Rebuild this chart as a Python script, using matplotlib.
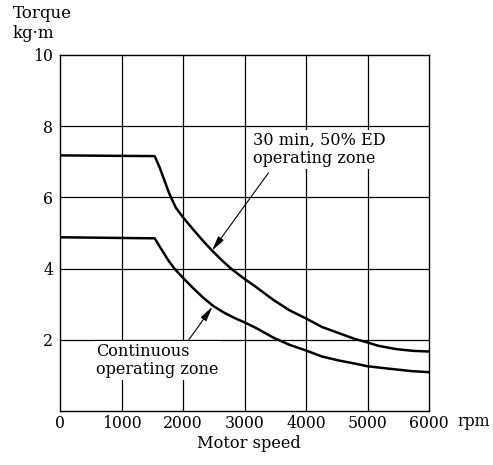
import matplotlib
matplotlib.use("Agg")
import matplotlib.pyplot as plt

plt.rcParams['font.family'] = ['DejaVu Serif']

# Data
speed_50ed = [0, 1540, 1620, 1700, 1767, 1805, 1884, 2000, 2160, 2330, 2470, 2640, 2780, 3000,
              3190, 3470, 3730, 4000, 4260, 4530, 4800, 4990, 5180, 5460, 5740, 6000]
torque_50ed = [7.18, 7.16, 6.84, 6.47, 6.15, 6.00, 5.71, 5.44, 5.11, 4.77, 4.51, 4.22, 4.00, 3.71,
               3.48, 3.12, 2.83, 2.60, 2.36, 2.19, 2.02, 1.93, 1.83, 1.74, 1.69, 1.67]

speed_cont = [0, 1540, 1650, 1750, 1860, 2000, 2160, 2330, 2500, 2670, 2840, 3000, 3190,
              3470, 3730, 4000, 4260, 4530, 4800, 4990, 5340, 5720, 6000]
torque_cont = [4.88, 4.85, 4.54, 4.26, 4.00, 3.74, 3.46, 3.18, 2.94, 2.76, 2.61, 2.49, 2.33,
               2.06, 1.86, 1.70, 1.53, 1.42, 1.33, 1.26, 1.19, 1.12, 1.09]

x_ticks = [0, 1000, 2000, 3000, 4000, 5000, 6000]
x_ticklabels = ['0', '1000', '2000', '3000', '4000', '5000', '6000']
y_ticks = [2, 4, 6, 8, 10]
y_ticklabels = ['2', '4', '6', '8', '10']

fig = plt.figure(figsize=(4.93, 4.65), dpi=100)
ax = fig.add_axes([60/493, 1 - 411/465, 369/493, 356/465])

ax.set_xlim(0, 6000)
ax.set_ylim(0, 10)

# grid
for xv in x_ticks[1:-1]:
    ax.axvline(xv, color='black', lw=0.9, zorder=1)
for yv in y_ticks[:-1]:
    ax.axhline(yv, color='black', lw=0.9, zorder=1)

ax.plot(speed_50ed, torque_50ed, color='black', lw=1.8, zorder=3,
        solid_joinstyle='round', solid_capstyle='butt')
ax.plot(speed_cont, torque_cont, color='black', lw=1.8, zorder=3,
        solid_joinstyle='round', solid_capstyle='butt')

for s in ax.spines.values():
    s.set_linewidth(1.0)

ax.set_xticks(x_ticks)
ax.set_xticklabels(x_ticklabels, fontsize=11.3)
ax.set_yticks(y_ticks)
ax.set_yticklabels(y_ticklabels, fontsize=11.3)
ax.tick_params(axis='x', length=0, pad=3)
ax.tick_params(axis='y', length=0, pad=5)

fig.text(13/493, 1 - 14/465, 'Torque', fontsize=12, ha='left', va='center')
fig.text(13/493, 1 - 33/465, 'kg·m', fontsize=12, ha='left', va='center')
fig.text(457/493, 1 - 421/465, 'rpm', fontsize=11.3, ha='left', va='center')
fig.text(249/493, 1 - 443/465, 'Motor speed', fontsize=11.7, ha='center', va='center')

bbox = dict(boxstyle='square,pad=0.12', fc='white', ec='none')
ax.text(3140, 7.85, '30 min, 50% ED\noperating zone', fontsize=11.6, ha='left', va='top',
        linespacing=1.08, bbox=bbox, zorder=2)
ax.text(590, 1.90, 'Continuous\noperating zone', fontsize=11.6, ha='left', va='top',
        linespacing=1.08, bbox=bbox, zorder=2)

arrow = dict(arrowstyle='-|>,head_length=0.9,head_width=0.2', color='black', lw=0.8,
             shrinkA=0, shrinkB=0)
ax.annotate('', xy=(2470, 4.50), xytext=(3390, 6.69), arrowprops=arrow, zorder=4)
ax.annotate('', xy=(2480, 2.93), xytext=(2090, 1.99), arrowprops=arrow, zorder=4)

fig.savefig('out.png', dpi=100)
